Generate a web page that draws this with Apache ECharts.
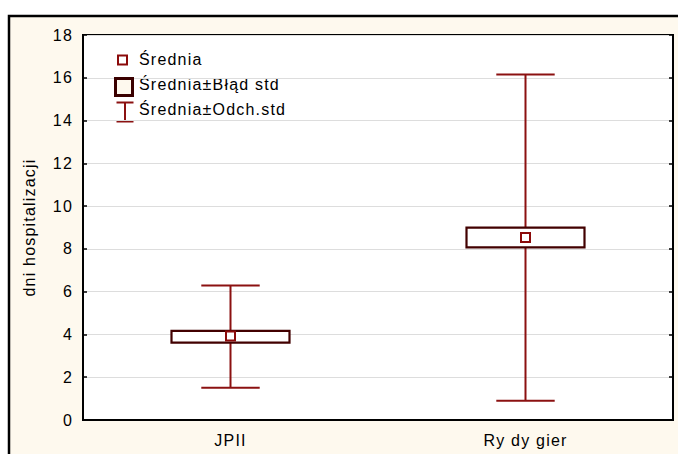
<!DOCTYPE html>
<html>
<head>
<meta charset="utf-8">
<script src="https://cdn.jsdelivr.net/npm/echarts@6/dist/echarts.min.js"></script>
<style>
  html, body { margin: 0; padding: 0; background: #ffffff; }
  #chart { width: 678px; height: 454px; }
  #chart text { letter-spacing: 1.2px; }
</style>
</head>
<body>
<div id="chart"></div>
<script>
// Hospital stay (days) per group: mean, mean ± standard error, mean ± standard deviation
const categories = ['JPII', 'Ry dy gier'];
const means  = [3.93, 8.53];
const seLow  = [3.62, 8.07];
const seHigh = [4.17, 8.99];
const sdLow  = [1.51, 0.90];
const sdHigh = [6.29, 16.15];
const yTicks = { min: 0, max: 18, interval: 2 };

const CREAM = '#fef9ee';
const WHISKER = '#8b1111';
const BOX = '#420000';
const MARK = '#8b0a0a';
const FONT = '"Liberation Sans", Arial, sans-serif';

const rows = categories.map((c, i) => [i, means[i], seLow[i], seHigh[i], sdLow[i], sdHigh[i]]);

const chart = echarts.init(document.getElementById('chart'), null, { renderer: 'svg' });

function renderStat(params, api) {
  const idx = api.value(0);
  const band = api.size([1, 0])[0];
  const pMean = api.coord([idx, api.value(1)]);
  const pSeLo = api.coord([idx, api.value(2)]);
  const pSeHi = api.coord([idx, api.value(3)]);
  const pSdLo = api.coord([idx, api.value(4)]);
  const pSdHi = api.coord([idx, api.value(5)]);
  const x = pMean[0];
  const boxHalf = band * 0.2;
  const capHalf = band * 0.099;
  const m = 4.5;
  const wStyle = { stroke: WHISKER, lineWidth: 2, fill: null };
  return {
    type: 'group',
    children: [
      { type: 'line', shape: { x1: x, y1: pSdHi[1], x2: x, y2: pSdLo[1] }, style: wStyle },
      { type: 'line', shape: { x1: x - capHalf, y1: pSdHi[1], x2: x + capHalf, y2: pSdHi[1] }, style: wStyle },
      { type: 'line', shape: { x1: x - capHalf, y1: pSdLo[1], x2: x + capHalf, y2: pSdLo[1] }, style: wStyle },
      {
        type: 'rect',
        shape: { x: x - boxHalf, y: pSeHi[1], width: boxHalf * 2, height: pSeLo[1] - pSeHi[1] },
        style: { fill: '#ffffff', stroke: BOX, lineWidth: 2.2 }
      },
      {
        type: 'rect',
        shape: { x: pMean[0] - m, y: pMean[1] - m, width: m * 2, height: m * 2 },
        style: { fill: '#ffffff', stroke: MARK, lineWidth: 2 }
      }
    ]
  };
}

const legendText = (y, text) => ({
  type: 'text', left: 139, top: y - 9,
  style: { text: text, fill: '#000', font: '16px ' + FONT }
});

chart.setOption({
  animation: false,
  backgroundColor: '#ffffff',
  textStyle: { fontFamily: FONT },
  grid: {
    left: 83, right: 5, top: 35, bottom: 34,
    show: true, backgroundColor: '#ffffff', borderColor: '#000', borderWidth: 2
  },
  graphic: [
    {
      type: 'rect', z: -10, silent: true,
      shape: { x: 9, y: 16, width: 700, height: 480 },
      style: { fill: CREAM, stroke: '#000', lineWidth: 2.5 }
    },
    // legend
    {
      type: 'rect', left: 117, top: 54.5, z: 10,
      shape: { width: 9, height: 9 },
      style: { fill: '#ffffff', stroke: MARK, lineWidth: 2 }
    },
    {
      type: 'rect', left: 114, top: 77, z: 10,
      shape: { width: 17, height: 17 },
      style: { fill: CREAM, stroke: '#3a0000', lineWidth: 3 }
    },
    {
      type: 'group', left: 114, top: 100, z: 10,
      children: [
        { type: 'line', shape: { x1: 8.5, y1: 0, x2: 8.5, y2: 19 }, style: { stroke: WHISKER, lineWidth: 2 } },
        { type: 'line', shape: { x1: 0, y1: 0, x2: 17, y2: 0 }, style: { stroke: WHISKER, lineWidth: 2 } },
        { type: 'line', shape: { x1: 0, y1: 19, x2: 17, y2: 19 }, style: { stroke: WHISKER, lineWidth: 2 } }
      ]
    },
    legendText(60, 'Średnia'),
    legendText(85, 'Średnia±Błąd std'),
    legendText(110, 'Średnia±Odch.std')
  ],
  xAxis: [
    {
      type: 'category', data: categories, position: 'bottom',
      axisLine: { lineStyle: { color: '#000', width: 2 } },
      axisTick: { inside: true, alignWithLabel: true, length: 4, lineStyle: { color: '#000', width: 1.5 } },
      axisLabel: { color: '#000', fontSize: 16, margin: 12, fontFamily: FONT },
      splitLine: { show: false }
    },
    {
      type: 'category', data: categories, position: 'top',
      axisLine: { lineStyle: { color: '#000', width: 2 } },
      axisTick: { inside: true, alignWithLabel: true, length: 4, lineStyle: { color: '#000', width: 1.5 } },
      axisLabel: { show: false },
      splitLine: { show: false }
    }
  ],
  yAxis: [
    {
      type: 'value', position: 'left',
      min: yTicks.min, max: yTicks.max, interval: yTicks.interval,
      name: 'dni hospitalizacji', nameLocation: 'middle', nameRotate: 90, nameGap: 46,
      nameTextStyle: { color: '#000', fontSize: 16, fontFamily: FONT },
      axisLine: { show: true, lineStyle: { color: '#000', width: 2 } },
      axisTick: { show: true, inside: true, length: 4, lineStyle: { color: '#000', width: 1.5 } },
      axisLabel: { color: '#000', fontSize: 16, margin: 10, fontFamily: FONT },
      splitLine: { show: true, lineStyle: { color: '#dddddd', width: 1 } }
    },
    {
      type: 'value', position: 'right',
      min: yTicks.min, max: yTicks.max, interval: yTicks.interval,
      axisLine: { show: true, lineStyle: { color: '#000', width: 2 } },
      axisTick: { show: true, inside: true, length: 4, lineStyle: { color: '#000', width: 1.5 } },
      axisLabel: { show: false },
      splitLine: { show: false }
    }
  ],
  series: [
    {
      type: 'custom',
      name: 'stats',
      renderItem: renderStat,
      encode: { x: 0, y: [1, 2, 3, 4, 5] },
      data: rows,
      z: 5
    }
  ]
});
</script>
</body>
</html>
